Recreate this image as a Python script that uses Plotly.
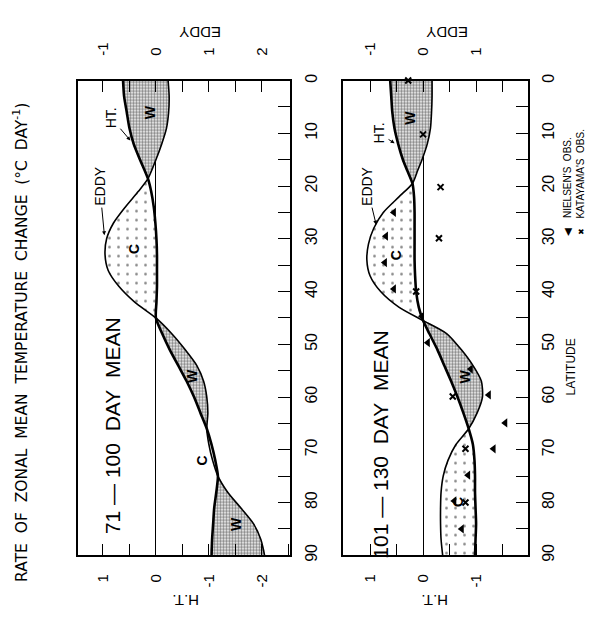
import plotly.graph_objects as go

# ---------------- data ----------------
# Left panel: 71-100 day mean
lat_a = [0, 3, 6, 9, 12, 15, 18.6, 21, 24, 27, 30, 33, 36, 39, 42, 45, 48, 51, 54, 57,
         60, 63, 66, 69, 72, 75, 78, 81, 84, 87, 90]
ht_a = [0.62, 0.60, 0.55, 0.50, 0.42, 0.30, 0.15, 0.09, 0.04, 0.01, -0.01, -0.02, -0.02,
        -0.02, -0.01, 0.0, -0.12, -0.26, -0.42, -0.58, -0.72, -0.84, -0.96, -1.05, -1.12,
        -1.17, -1.14, -1.10, -1.08, -1.06, -1.05]
eddy_a = [0.23, 0.25, 0.24, 0.20, 0.11, 0.0, -0.15, -0.33, -0.58, -0.80, -0.93, -0.96,
          -0.90, -0.70, -0.40, 0.0, 0.30, 0.55, 0.77, 0.90, 0.96, 0.98, 0.96, 1.00, 1.07,
          1.17, 1.35, 1.60, 1.84, 1.98, 2.05]
bounds_a = [0, 18.6, 45, 66, 75, 90]
kinds_a = ["W", "C", "W", "C", "W"]

# Right panel: 101-130 day mean
lat_b = [0, 3, 6, 9, 12, 15, 17, 19.5, 22, 25, 28, 31, 34, 37, 40, 43, 45.5, 48, 51, 54,
         57, 60, 63, 66, 69, 72, 75, 78, 81, 84, 87, 90]
ht_b = [0.62, 0.60, 0.58, 0.54, 0.47, 0.38, 0.30, 0.20, 0.17, 0.16, 0.16, 0.16, 0.16, 0.15,
        0.13, 0.08, 0.0, -0.12, -0.27, -0.40, -0.53, -0.65, -0.76, -0.86, -0.94, -0.97,
        -0.98, -0.98, -0.99, -1.0, -0.99, -0.98]
eddy_b = [0.17, 0.17, 0.16, 0.14, 0.08, -0.02, -0.10, -0.20, -0.45, -0.75, -0.93, -1.03,
          -1.06, -1.00, -0.80, -0.45, 0.0, 0.45, 0.72, 0.94, 1.10, 1.12, 1.02, 0.86, 0.62,
          0.47, 0.38, 0.34, 0.33, 0.33, 0.34, 0.37]
bounds_b = [0, 19.5, 45.5, 66, 90]
kinds_b = ["W", "C", "W", "C"]

# Observations (right panel)
nielsen_lat = [25, 29.5, 34.5, 39.5, 44.7, 49.7, 54.7, 59.6, 64.9, 69.8, 74.8, 79.7, 85]
nielsen_eddy = [-0.55, -0.70, -0.72, -0.55, -0.02, 0.09, 0.90, 1.24, 1.55, 1.33, 0.85, 0.59, 0.73]
katayama_lat = [0, 10.2, 20.2, 29.9, 40, 59.9, 69.8, 80]
katayama_ht = [0.28, 0.0, -0.33, -0.30, 0.13, -0.56, -0.80, -0.80]

lat_ticks = [0, 10, 20, 30, 40, 50, 60, 70, 80, 90]
lat_minor = [5, 15, 25, 35, 45, 55, 65, 75, 85]
ht_ticks = [-2, -1, 0, 1]
eddy_ticks = [-1, 0, 1, 2]
half_ticks = [-2.5, -1.5, -0.5, 0.5, 1.5]

# ---------------- figure ----------------
OFF = 8                      # page body margin
FW, FH = 597 - OFF, 622 - OFF
FONT = "Liberation Sans"


def px(x):
    return (x - OFF) / FW


def py(y):
    return 1 - (y - OFF) / FH


fig = go.Figure()

W_PAT = dict(shape=".", size=3, solidity=0.55, fgcolor="black", bgcolor="white")
C_PAT = dict(shape=".", size=9, solidity=0.07, fgcolor="black", bgcolor="white")


def add_panel(lat, ht, eddy, bounds, kinds, xa, xe, ya):
    for a, b, k in zip(bounds[:-1], bounds[1:], kinds):
        idx = [i for i, v in enumerate(lat) if a <= v <= b]
        xs = [ht[i] for i in idx] + [-eddy[i] for i in reversed(idx)]
        ys = [lat[i] for i in idx] + [lat[i] for i in reversed(idx)]
        fig.add_trace(go.Scatter(
            x=xs, y=ys, xaxis=xa, yaxis=ya, mode="lines", fill="toself",
            fillcolor="white", fillpattern=W_PAT if k == "W" else C_PAT,
            line=dict(width=0, shape="spline", smoothing=0.7),
            hoverinfo="skip", showlegend=False))
    fig.add_trace(go.Scatter(
        x=eddy, y=lat, xaxis=xe, yaxis=ya, mode="lines",
        line=dict(color="black", width=1.6, shape="spline", smoothing=0.7),
        showlegend=False))
    fig.add_trace(go.Scatter(
        x=ht, y=lat, xaxis=xa, yaxis=ya, mode="lines",
        line=dict(color="black", width=2.6, shape="spline", smoothing=0.7),
        showlegend=False))


add_panel(lat_a, ht_a, eddy_a, bounds_a, kinds_a, "x", "x3", "y")
add_panel(lat_b, ht_b, eddy_b, bounds_b, kinds_b, "x2", "x4", "y2")

fig.add_trace(go.Scatter(
    x=nielsen_eddy, y=nielsen_lat, xaxis="x4", yaxis="y2", mode="markers",
    marker=dict(symbol="triangle-left", size=8, color="black"),
    cliponaxis=False, showlegend=False))
fig.add_trace(go.Scatter(
    x=katayama_ht, y=katayama_lat, xaxis="x2", yaxis="y2", mode="markers",
    marker=dict(symbol="x-thin", size=6, color="black", line=dict(width=2, color="black")),
    cliponaxis=False, showlegend=False))


def x_axis(domain, rng, side, vals, overlay=None, anchor="y", standoff=6):
    d = dict(domain=domain, range=rng, side=side, anchor=anchor,
             showline=True, linecolor="black", linewidth=1.5,
             ticks="inside", ticklen=12, tickwidth=1.2, tickcolor="black",
             tickmode="array", tickvals=vals, ticktext=[str(v) for v in vals],
             tickangle=-90, ticklabelstandoff=standoff,
             tickfont=dict(size=15, family=FONT, color="black"),
             minor=dict(ticks="inside", ticklen=12, tickwidth=1.2, tickcolor="black",
                        tickvals=half_ticks, showgrid=False),
             showgrid=False, zeroline=False)
    if overlay:
        d["overlaying"] = overlay
    return d


def y_axis(anchor):
    return dict(domain=[py(560), py(75)], range=[90, 0], side="right", anchor=anchor,
                showline=True, mirror=True, linecolor="black", linewidth=1.5,
                ticks="inside", ticklen=12, tickwidth=1.2, tickcolor="black",
                tickmode="array", tickvals=lat_ticks, ticktext=[str(v) for v in lat_ticks],
                tickangle=-90, ticklabelstandoff=6,
                tickfont=dict(size=16, family=FONT, color="black"),
                minor=dict(ticks="inside", ticklen=12, tickwidth=1.2, tickcolor="black",
                           tickvals=lat_minor, showgrid=False),
                showgrid=False, zeroline=False)


dom_a = [px(78), px(290)]
dom_b = [px(343), px(527.5)]
xa = x_axis(dom_a, [1.47, -2.53], "bottom", ht_ticks, standoff=11)
xa.update(zeroline=True, zerolinecolor="black", zerolinewidth=1)
xb = x_axis(dom_b, [1.51, -1.97], "bottom", ht_ticks, anchor="y2", standoff=11)
xb.update(zeroline=True, zerolinecolor="black", zerolinewidth=1)
xe_a = x_axis(dom_a, [-1.47, 2.53], "top", eddy_ticks, overlay="x", standoff=20)
xe_b = x_axis(dom_b, [-1.51, 1.97], "top", eddy_ticks, overlay="x2", anchor="y2", standoff=20)

ann = []


def label(x, y, text, size=15, angle=-90, xref="paper", yref="paper", family=FONT,
          xanchor="center", yanchor="middle"):
    ann.append(dict(x=x, y=y, xref=xref, yref=yref, text=text, showarrow=False,
                    textangle=angle, xanchor=xanchor, yanchor=yanchor,
                    font=dict(size=size, family=family, color="black")))


SP = "&nbsp;&nbsp;"
label(px(21), py(343),
      SP.join(["RATE", "OF", "ZONAL", "MEAN", "TEMPERATURE", "CHANGE",
               "(°C", "DAY<sup>-1</sup>)"]),
      size=15.5, family="DejaVu Sans")
label(px(112), py(428), "71 — 100&nbsp;&nbsp;DAY&nbsp;&nbsp;MEAN", size=21)
label(px(381), py(447), "101 — 130&nbsp;&nbsp;DAY&nbsp;&nbsp;MEAN", size=21)
label(px(186), py(606), "H.T.", size=15, angle=180)
label(px(435), py(606), "H.T.", size=15, angle=180)
label(px(200), py(26), "EDDY", size=15, angle=180)
label(px(447), py(26), "EDDY", size=15, angle=180)
label(px(571), py(368), "LATITUDE", size=12)
label(px(567), py(230), "◀", size=10)
label(px(567), py(218), "NIELSEN'S&nbsp; OBS.", size=10, yanchor="bottom")
label(px(581), py(230), "✖", size=8)
label(px(581), py(218), "KATAYAMA'S&nbsp; OBS.", size=10, yanchor="bottom")

# W / C region labels
for x, y, t, xr, yr in [(0.11, 6, "W", "x", "y"), (0.40, 32, "C", "x", "y"),
                        (-0.68, 56, "W", "x", "y"), (-0.87, 72, "C", "x", "y"),
                        (-1.5, 84, "W", "x", "y"),
                        (0.26, 7, "W", "x2", "y2"), (0.52, 33, "C", "x2", "y2"),
                        (-0.8, 56, "W", "x2", "y2"), (-0.65, 80, "C", "x2", "y2")]:
    label(x, y, "<b>%s</b>" % t, size=14, xref=xr, yref=yr)

# curve labels with arrows
for tx, ty, hx, hy, t, xr, yr in [(0.85, 7, 0.47, 11.5, "HT.", "x", "y"),
                                  (1.06, 20, 0.97, 29.5, "EDDY", "x", "y"),
                                  (0.83, 10, 0.52, 12, "HT.", "x2", "y2"),
                                  (1.06, 20, 0.88, 27.5, "EDDY", "x2", "y2")]:
    ann.append(dict(x=hx, y=hy, ax=tx, ay=ty, xref=xr, yref=yr, axref=xr, ayref=yr,
                    text=t, textangle=-90, showarrow=True, arrowhead=2, arrowsize=0.8,
                    arrowwidth=1, arrowcolor="black", standoff=1,
                    font=dict(size=14, family=FONT, color="black")))

fig.update_layout(
    width=FW, height=FH, autosize=False,
    margin=dict(l=0, r=0, t=0, b=0),
    paper_bgcolor="white", plot_bgcolor="white",
    xaxis=xa, xaxis2=xb, xaxis3=xe_a, xaxis4=xe_b,
    yaxis=y_axis("x"), yaxis2=y_axis("x2"),
    annotations=ann, showlegend=False,
)

fig.write_html("out.html")
